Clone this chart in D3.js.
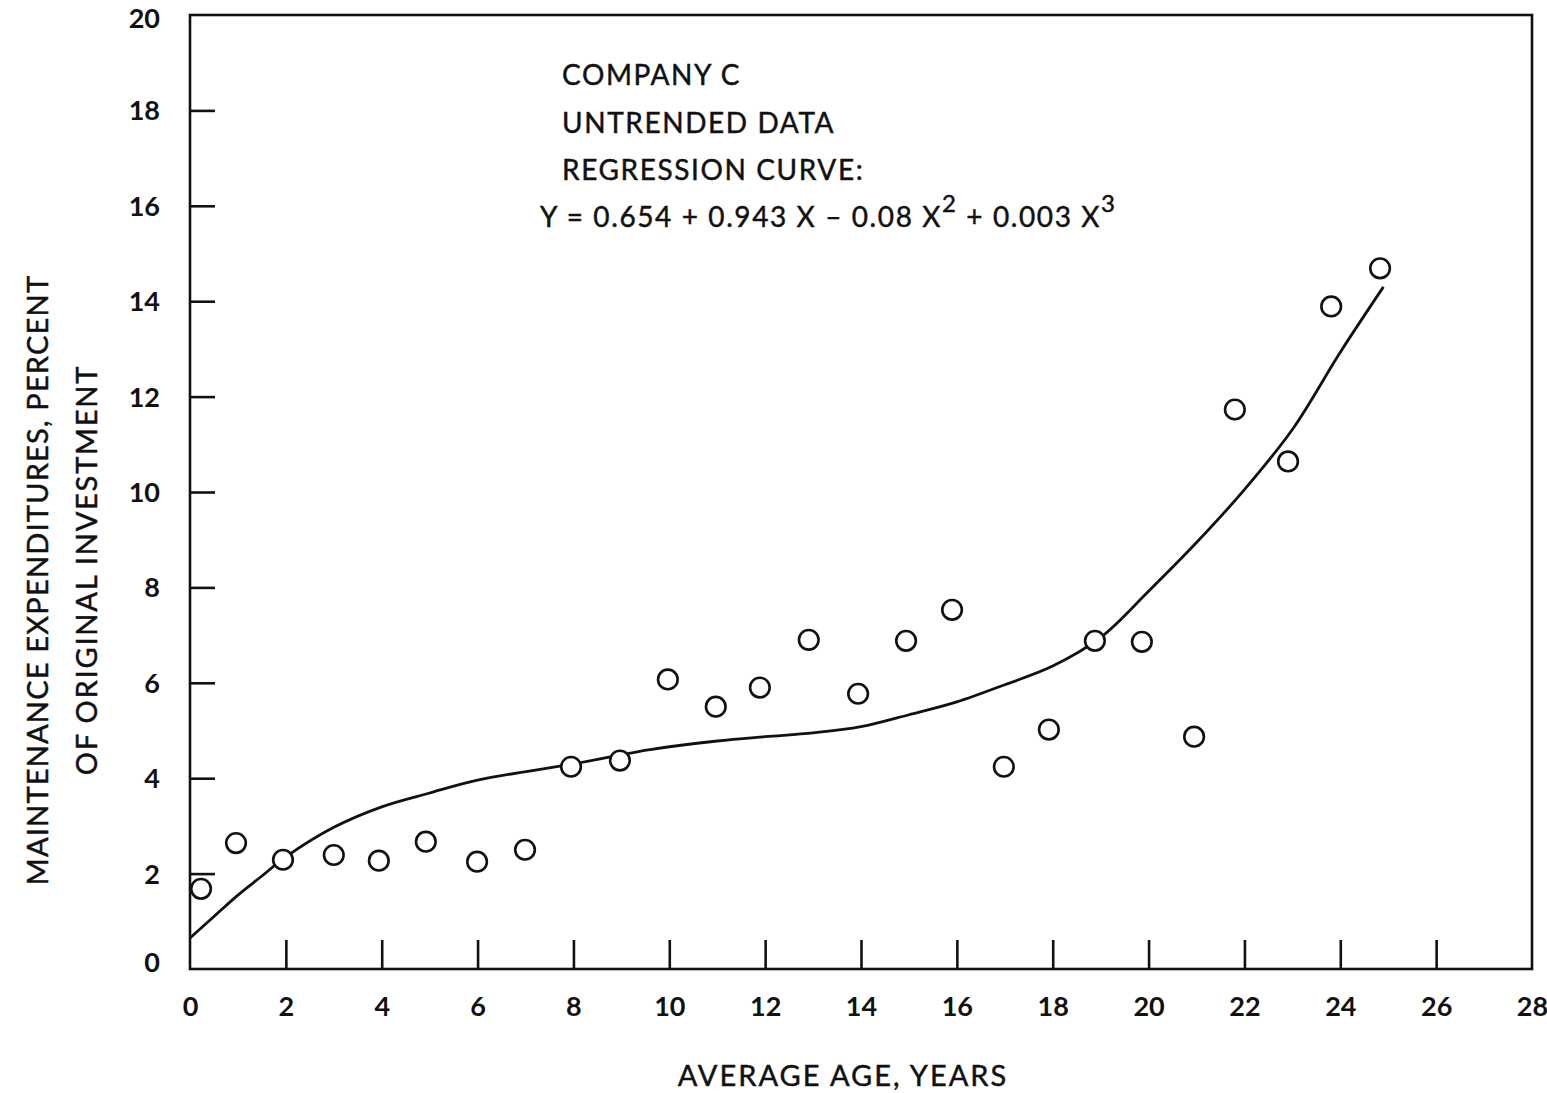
<!DOCTYPE html>
<html>
<head>
<meta charset="utf-8">
<script src="https://cdn.jsdelivr.net/npm/d3@7"></script>
<style>
  html, body { margin: 0; padding: 0; background: #fff; }
  svg { display: block; }
  text { font-family: "Lato", "DejaVu Sans", sans-serif; fill: #111; }
  .label { stroke: #111; stroke-width: 0.45px; }
</style>
</head>
<body>
<svg id="chart" width="1547" height="1093"></svg>
<script>
// Observed maintenance expenditures (percent of original investment) by average age
const ages = [0.23, 0.96, 1.94, 3.0, 3.94, 4.92, 5.99, 6.99, 7.95, 8.97, 9.97, 10.97, 11.89,
              12.91, 13.94, 14.94, 15.9, 16.98, 17.92, 18.88, 19.86, 20.95, 21.8, 22.91, 23.81, 24.83];
const expenditures = [1.68, 2.64, 2.29, 2.39, 2.27, 2.67, 2.25, 2.5, 4.24, 4.37, 6.07, 5.5, 5.9,
                      6.9, 5.77, 6.88, 7.53, 4.24, 5.02, 6.88, 6.86, 4.87, 11.73, 10.64, 13.89, 14.69];

// Regression curve, traced at sample ages
const curveAges   = [0, 0.5, 1, 1.5, 2, 3, 4, 5, 6, 8, 9.6, 11, 12, 13, 14, 15, 16, 17, 18, 19, 20, 21, 22, 23, 24, 24.9];
const curveValues = [0.65, 1.1, 1.55, 1.95, 2.35, 2.97, 3.4, 3.69, 3.96, 4.3, 4.6, 4.78, 4.87, 4.95, 5.08, 5.33, 5.6, 5.96, 6.35, 6.95, 7.92, 8.94, 10.05, 11.31, 12.93, 14.3];

const xTicks = [0, 2, 4, 6, 8, 10, 12, 14, 16, 18, 20, 22, 24, 26, 28];
const yTicks = [0, 2, 4, 6, 8, 10, 12, 14, 16, 18, 20];

const annotationLines = ["COMPANY C", "UNTRENDED DATA", "REGRESSION CURVE:"];
const xTitle = "AVERAGE AGE,  YEARS";
const yTitleLines = ["MAINTENANCE EXPENDITURES,  PERCENT", "OF ORIGINAL INVESTMENT"];

const svg = d3.select("#chart");
const x = d3.scaleLinear().domain([0, 28]).range([190, 1532]);
const y = d3.scaleLinear().domain([0, 20]).range([969, 15]);
const ink = "#111";

// Frame
svg.append("rect")
  .attr("x", x(0)).attr("y", y(20))
  .attr("width", x(28) - x(0)).attr("height", y(0) - y(20))
  .attr("fill", "none").attr("stroke", ink).attr("stroke-width", 2.6);

// Bottom axis: inward ticks, labels below
const gx = svg.append("g").attr("transform", `translate(0,${y(0)})`)
  .call(d3.axisBottom(x).tickValues(xTicks).tickFormat(d3.format("d")).tickSize(-29).tickPadding(28));
gx.select(".domain").remove();
gx.selectAll(".tick line").attr("stroke", ink).attr("stroke-width", 2.6)
  .filter(d => d === 0 || d === 28).remove();
gx.selectAll(".tick text").attr("font-size", 27).attr("font-weight", 700).attr("fill", ink);

// Left axis: inward ticks, labels to the left
const gy = svg.append("g").attr("transform", `translate(${x(0)},0)`)
  .call(d3.axisLeft(y).tickValues(yTicks).tickFormat(d3.format("d")).tickSize(-25).tickPadding(30));
gy.select(".domain").remove();
gy.selectAll(".tick line").attr("stroke", ink).attr("stroke-width", 2.6)
  .filter(d => d === 0 || d === 20).remove();
gy.selectAll(".tick text").attr("font-size", 27).attr("font-weight", 700).attr("fill", ink)
  .attr("dy", d => d === 0 ? "0.1em" : d === 20 ? "0.45em" : "0.35em");

// Regression curve
const line = d3.line().x(d => x(d[0])).y(d => y(d[1])).curve(d3.curveCatmullRom.alpha(0.5));
svg.append("path")
  .datum(curveAges.map((a, i) => [a, curveValues[i]]))
  .attr("d", line)
  .attr("fill", "none").attr("stroke", ink).attr("stroke-width", 2.8);

// Observations
svg.append("g").selectAll("circle")
  .data(ages.map((a, i) => [a, expenditures[i]]))
  .join("circle")
  .attr("cx", d => x(d[0])).attr("cy", d => y(d[1]))
  .attr("r", 9.8)
  .attr("fill", "#fff").attr("stroke", ink).attr("stroke-width", 2.6);

// Annotation block
const ann = svg.append("g");
annotationLines.forEach((t, i) => {
  ann.append("text").attr("class", "label").attr("x", 562).attr("y", 85 + i * 47.5)
    .attr("font-size", 28).attr("letter-spacing", 1.6).text(t);
});
const eq = ann.append("text").attr("class", "label").attr("x", 540).attr("y", 227)
  .attr("font-size", 28).attr("letter-spacing", 1.6);
eq.append("tspan").text("Y = 0.654 + 0.943 X \u2013 0.08 X");
eq.append("tspan").attr("dy", -15).attr("font-size", 24).text("2");
eq.append("tspan").attr("dy", 15).text(" + 0.003 X");
eq.append("tspan").attr("dy", -15).attr("font-size", 24).text("3");

// Axis titles
svg.append("text").attr("class", "label").attr("x", 843).attr("y", 1086).attr("text-anchor", "middle")
  .attr("font-size", 29).attr("letter-spacing", 2).text(xTitle);

yTitleLines.forEach((t, i) => {
  svg.append("text").attr("class", "label")
    .attr("transform", `translate(${48 + i * 49},${580 - i * 10}) rotate(-90)`)
    .attr("text-anchor", "middle")
    .attr("font-size", 29).attr("letter-spacing", i === 0 ? 1.2 : 1.8).text(t);
});
</script>
</body>
</html>
